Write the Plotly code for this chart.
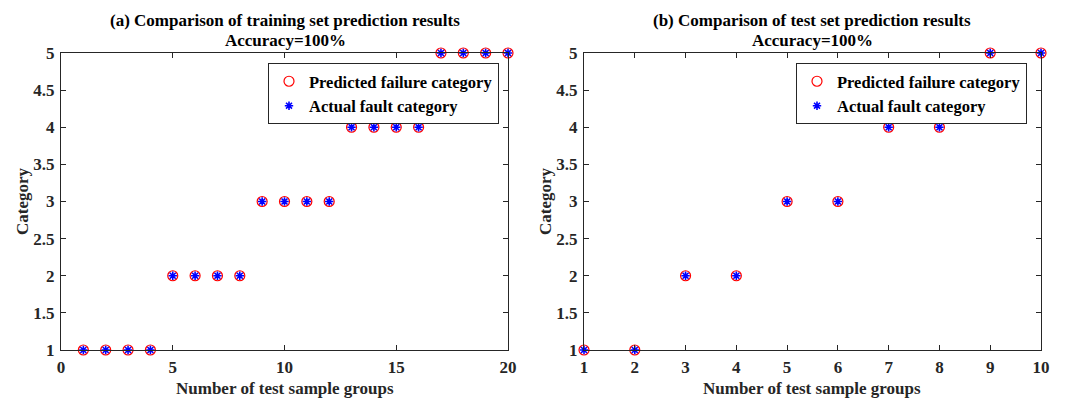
import plotly.graph_objects as go

train_x = list(range(1, 21))
train_pred = [1, 1, 1, 1, 2, 2, 2, 2, 3, 3, 3, 3, 4, 4, 4, 4, 5, 5, 5, 5]
train_actual = [1, 1, 1, 1, 2, 2, 2, 2, 3, 3, 3, 3, 4, 4, 4, 4, 5, 5, 5, 5]

test_x = list(range(1, 11))
test_pred = [1, 1, 2, 2, 3, 3, 4, 4, 5, 5]
test_actual = [1, 1, 2, 2, 3, 3, 4, 4, 5, 5]

yticks = [1, 1.5, 2, 2.5, 3, 3.5, 4, 4.5, 5]
ytick_text = ["1", "1.5", "2", "2.5", "3", "3.5", "4", "4.5", "5"]
xticks_a = [0, 5, 10, 15, 20]
xticks_b = list(range(1, 11))

W, H = 1069, 399
FONT = "Liberation Serif"

def px_x(p):
    return p / W

def px_y(p):
    return 1 - p / H

fig = go.Figure()

circ = dict(symbol="circle-open", size=10, color="red", line=dict(color="red", width=1.2))
star = dict(symbol="asterisk-open", size=7, color="blue", line=dict(color="blue", width=1.6))

fig.add_trace(go.Scatter(x=train_x, y=train_pred, mode="markers", marker=circ,
                         name="Predicted failure category", xaxis="x", yaxis="y",
                         legend="legend", cliponaxis=False))
fig.add_trace(go.Scatter(x=train_x, y=train_actual, mode="markers", marker=star,
                         name="Actual fault category", xaxis="x", yaxis="y",
                         legend="legend", cliponaxis=False))
fig.add_trace(go.Scatter(x=test_x, y=test_pred, mode="markers", marker=circ,
                         name="Predicted failure category", xaxis="x2", yaxis="y2",
                         legend="legend2", cliponaxis=False))
fig.add_trace(go.Scatter(x=test_x, y=test_actual, mode="markers", marker=star,
                         name="Actual fault category", xaxis="x2", yaxis="y2",
                         legend="legend2", cliponaxis=False))

tickfont = dict(family=FONT, size=17, color="#262626", weight="bold")
axis_common = dict(showgrid=False, zeroline=False, showline=True, linecolor="#262626",
                   linewidth=1, mirror="ticks", ticks="inside", ticklen=5,
                   tickcolor="#262626", tickfont=tickfont, automargin=False,
                   ticklabelstandoff=2)

legend_font = dict(family=FONT, size=16.5, color="black", weight="bold")
ydom = [px_y(350), px_y(53)]
fig.update_layout(
    template="none",
    width=W, height=H,
    margin=dict(l=0, r=0, t=0, b=0),
    paper_bgcolor="white", plot_bgcolor="white",
    font=dict(family=FONT, color="#262626"),
    xaxis=dict(domain=[px_x(61), px_x(508)], range=[0, 20], tickvals=xticks_a,
               anchor="y", **axis_common),
    yaxis=dict(domain=ydom, range=[1, 5], tickvals=yticks, ticktext=ytick_text,
               anchor="x", **axis_common),
    xaxis2=dict(domain=[px_x(584), px_x(1041)], range=[1, 10], tickvals=xticks_b,
                anchor="y2", **axis_common),
    yaxis2=dict(domain=ydom, range=[1, 5], tickvals=yticks, ticktext=ytick_text,
                anchor="x2", **axis_common),
    legend=dict(x=px_x(268), y=px_y(63), xanchor="left", yanchor="top",
                bordercolor="#262626", borderwidth=1, bgcolor="white",
                font=legend_font, tracegroupgap=0, itemsizing="trace",
                itemwidth=30),
    legend2=dict(x=px_x(796), y=px_y(63), xanchor="left", yanchor="top",
                 bordercolor="#262626", borderwidth=1, bgcolor="white",
                 font=legend_font, tracegroupgap=0, itemsizing="trace",
                 itemwidth=30),
    showlegend=True,
)

ann_font_title = dict(family=FONT, size=17, color="black", weight="bold")
ann_font_axis = dict(family=FONT, size=17, color="#262626", weight="bold")
common = dict(xref="paper", yref="paper", showarrow=False,
              xanchor="center", yanchor="middle")
annotations = [
    dict(text="(a) Comparison of training set prediction results",
         x=px_x(285), y=px_y(20), font=ann_font_title, **common),
    dict(text="Accuracy=100%", x=px_x(285), y=px_y(41), font=ann_font_title, **common),
    dict(text="(b) Comparison of test set prediction results",
         x=px_x(812), y=px_y(20), font=ann_font_title, **common),
    dict(text="Accuracy=100%", x=px_x(812), y=px_y(41), font=ann_font_title, **common),
    dict(text="Number of test sample groups", x=px_x(285), y=px_y(388),
         font=ann_font_axis, **common),
    dict(text="Number of test sample groups", x=px_x(812), y=px_y(388),
         font=ann_font_axis, **common),
    dict(text="Category", x=px_x(22), y=px_y(201), textangle=-90,
         font=ann_font_axis, **common),
    dict(text="Category", x=px_x(545), y=px_y(201), textangle=-90,
         font=ann_font_axis, **common),
]
fig.update_layout(annotations=annotations)

fig.write_html("out.html", config={"displayModeBar": False},
               post_script="document.body.style.margin='0';document.body.style.overflow='hidden';")
